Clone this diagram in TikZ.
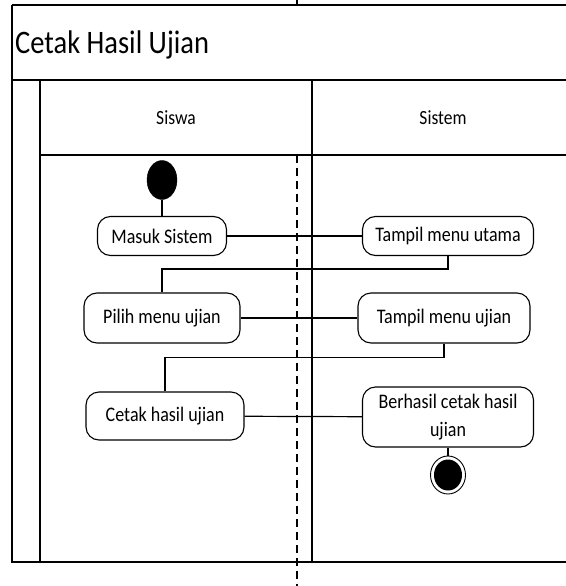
\documentclass[tikz,border=0pt]{standalone}
\usepackage{fontspec}
\usepackage{graphicx}
\setmainfont{Carlito}
\usetikzlibrary{shapes.geometric}
\newcommand{\talltext}[1]{\scalebox{1}[1.15]{#1}}
\begin{document}
\begin{tikzpicture}[x=1pt,y=-1pt,
  act/.style={draw, line width=1.1pt, rectangle, rounded corners=13pt, align=center,
    font=\fontsize{18}{22}\selectfont, inner sep=0pt},
  frameline/.style={line width=1.4pt},
  conn/.style={line width=1.2pt},
  lanelabel/.style={font=\fontsize{17.5}{20}\selectfont, inner sep=0pt},
  startnode/.style={ellipse, fill=black, draw=black, minimum width=30pt, minimum height=39pt, inner sep=0pt},
  endouter/.style={ellipse, fill=white, draw=black, line width=0.9pt, minimum width=35pt, minimum height=38pt, inner sep=0pt},
  endinner/.style={ellipse, fill=black, minimum width=28pt, minimum height=31pt, inner sep=0pt},
  lifeline/.style={line width=1.1pt, dash pattern=on 8pt off 5pt}]
\useasboundingbox (0,0) rectangle (565,586);
\fill[white] (0,0) rectangle (565,586);
% dashed line
\draw[line width=1.1pt] (297,0) -- (297,5);
\draw[lifeline] (297,155) -- (297,586);
% frame
\draw[frameline] (12,5) -- (580,5);
\draw[frameline] (12,5) -- (12,562) -- (580,562);
\draw[frameline] (12,80) -- (580,80);
\draw[frameline] (40,80) -- (40,562);
\draw[frameline] (40,155) -- (580,155);
\draw[frameline] (312,80) -- (312,562);
% title and lanes
\node[anchor=base west, font=\fontsize{28.5}{32}\selectfont, inner sep=0pt] (title) at (15,54) {\talltext{Cetak Hasil Ujian}};
\node[lanelabel] (siswa) at (176,118) {\talltext{Siswa}};
\node[lanelabel] (sistem) at (443,118) {\talltext{Sistem}};
% nodes
\node[startnode] (init) at (162,180) {};
\node[act, minimum width=129pt, minimum height=39pt] (masuk) at (162,236) {\talltext{Masuk Sistem}};
\node[act, minimum width=171pt, minimum height=39pt] (utama) at (448,236) {\talltext{Tampil menu utama}};
\node[act, minimum width=156pt, minimum height=50pt] (pilih) at (162,318) {\talltext{Pilih menu ujian}};
\node[act, minimum width=172pt, minimum height=50pt] (tujian) at (444,318) {\talltext{Tampil menu ujian}};
\node[act, minimum width=158pt, minimum height=48pt] (cetak) at (165,416) {\talltext{Cetak hasil ujian}};
\node[act, minimum width=171pt, minimum height=60pt] (berhasil) at (448,417)
  {\talltext{\fontsize{18}{24}\selectfont\begin{tabular}{@{}c@{}}Berhasil cetak hasil\\ujian\end{tabular}}};
\node[endouter] (final) at (448,475) {};
\node[endinner] (finalin) at (448,475) {};
% connectors
\draw[conn] (init) -- (masuk);
\draw[conn] (masuk) -- (utama);
\draw[conn] (utama.south) -- ++(0,13) -| (pilih.north);
\draw[conn] (pilih) -- (tujian);
\draw[conn] (tujian.south) -- ++(0,14) -| (cetak.north);
\draw[conn] (cetak) -- (berhasil);
\draw[conn] (berhasil) -- (final);
\end{tikzpicture}
\end{document}
